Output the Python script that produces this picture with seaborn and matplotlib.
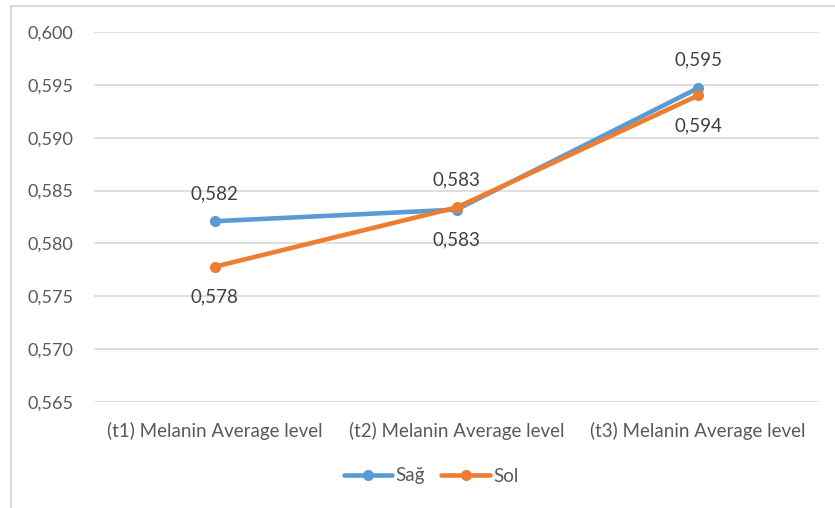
import matplotlib
matplotlib.use("Agg")
import matplotlib.pyplot as plt
from matplotlib.patches import Rectangle
import seaborn as sns
import pandas as pd

categories = ["(t1) Melanin Average level", "(t2) Melanin Average level", "(t3) Melanin Average level"]
sag_values = [0.5821, 0.5832, 0.5947]
sol_values = [0.5778, 0.5834, 0.5940]
series_names = ["Sağ", "Sol"]
y_ticks = [0.565, 0.570, 0.575, 0.580, 0.585, 0.590, 0.595, 0.600]

colors = {"Sağ": "#5B9BD5", "Sol": "#ED7D31"}
text_color = "#595959"
grid_color = "#D9D9D9"

df = pd.DataFrame({
    "cat": categories * 2,
    "x": list(range(len(categories))) * 2,
    "value": sag_values + sol_values,
    "series": [series_names[0]] * 3 + [series_names[1]] * 3,
})

sns.set_theme(style="white")
plt.rcParams["font.family"] = ["Lato", "DejaVu Sans"]

fig = plt.figure(figsize=(8.35, 5.08), dpi=100)
ax = fig.add_axes([94 / 835, 1 - 402 / 508, (819 - 94) / 835, (402 - 32) / 508])

sns.lineplot(data=df, x="x", y="value", hue="series", palette=colors,
             marker="o", markersize=8, markeredgewidth=0, linewidth=3.3,
             ax=ax, legend=True)

ax.set_xlim(-0.5, 2.5)
ax.set_ylim(0.565, 0.600)
ax.set_yticks(y_ticks)
ax.set_yticklabels([f"{v:.3f}".replace(".", ",") for v in y_ticks])
ax.set_xticks(range(len(categories)))
ax.set_xticklabels(categories)
ax.tick_params(axis="y", colors=text_color, labelsize=13, length=0, pad=15)
ax.tick_params(axis="x", colors=text_color, labelsize=13.5, length=0, pad=14)
ax.yaxis.grid(True, color=grid_color, linewidth=1.2)
ax.set_axisbelow(True)
for s in ax.spines.values():
    s.set_visible(False)
ax.set_xlabel("")
ax.set_ylabel("")


def fmt(v):
    return f"{v:.3f}".replace(".", ",")


# value labels: the higher series is labelled above, the lower one below
for i in range(len(categories)):
    a, b = sag_values[i], sol_values[i]
    sag_up = a > b
    for v, up in ((a, sag_up), (b, not sag_up)):
        ax.annotate(fmt(v), (i, v), xytext=(0, 20 if up else -22),
                    textcoords="offset points", ha="center", va="center",
                    fontsize=13.5, color="#404040")

leg = ax.legend(loc="center", bbox_to_anchor=(431 / 835, 1 - 476 / 508),
                bbox_transform=fig.transFigure, ncol=2,
                frameon=False, fontsize=13.5, handlelength=2.6,
                columnspacing=0.9, handletextpad=0.15)
for t in leg.get_texts():
    t.set_color(text_color)

fig.patches.append(Rectangle((11 / 835, -0.05), 1.2, 1 - 6 / 508 + 0.05,
                             transform=fig.transFigure, fill=False,
                             edgecolor=grid_color, linewidth=1.5))

fig.savefig("out.png", dpi=100)
